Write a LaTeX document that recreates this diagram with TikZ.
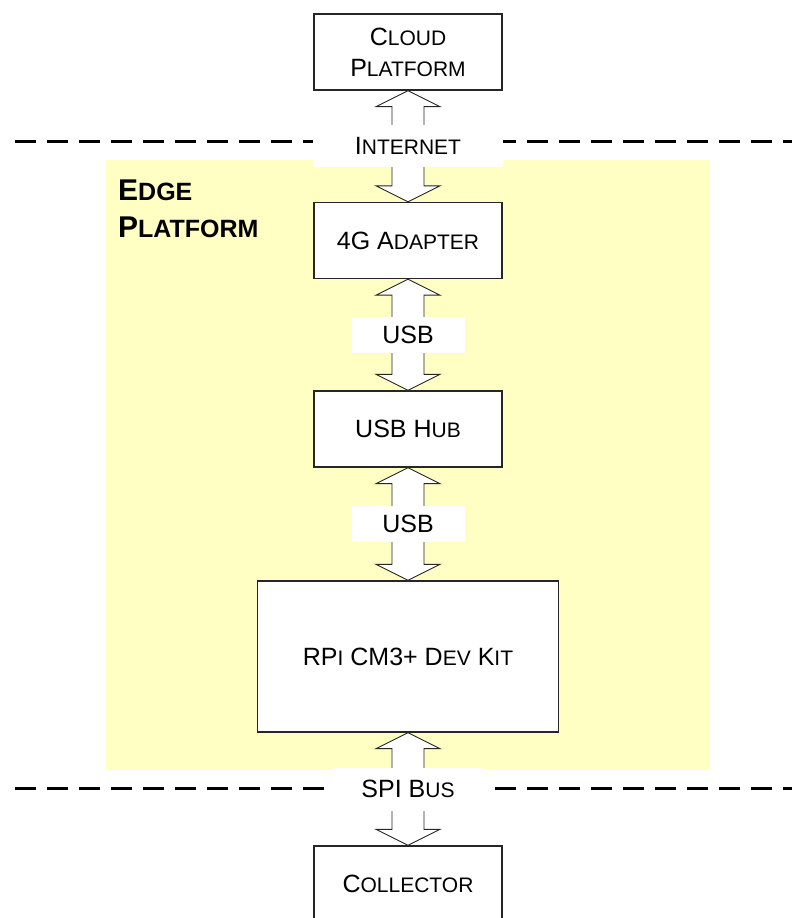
\documentclass[tikz,border=0pt]{standalone}
\usepackage{fontspec}
\setmainfont{Liberation Sans}
\usetikzlibrary{calc}
\definecolor{edgefill}{RGB}{255,255,196}
\newcommand{\sm}[1]{{\fontsize{21}{23}\selectfont #1}}
\newcommand{\smb}[1]{{\fontsize{25}{27}\selectfont #1}}
\tikzset{%
          base/.style = {rectangle, draw=black!85, line width=1.3pt, fill=white,
                         inner sep=0pt, text centered, font=\fontsize{25}{31}\selectfont},
  box0/.style = {base, minimum width=188pt, minimum height=76pt, align=center},
  box1/.style = {base, minimum width=301pt, minimum height=151pt, align=center},
  link/.style = {rectangle, fill=white, inner sep=0pt, font=\fontsize{25}{31}\selectfont},
  fat/.style  = {draw=black!85, line width=0.9pt, fill=white, line join=miter},
  border/.style = {line width=3pt, dash pattern=on 21pt off 11pt},
}
% double block arrow from the bottom of #1 to the top of #2
\newcommand{\fatarrow}[2]{%
  \draw[fat] (#1.south) -- ++(32,-16) -- ++(-16,0) -- ($(#2.north)+(16,16)$)
    -- ++(16,0) -- (#2.north) -- ++(-32,16) -- ++(16,0)
    -- ($(#1.south)+(-16,-16)$) -- ++(-16,0) -- cycle;}

\begin{document}
\begin{tikzpicture}[x=1pt, y=1pt, node distance=188.5pt]
  \useasboundingbox (0,0) rectangle (792,-918);
  \clip (0,0) rectangle (792,-918);

  % edge area and boundaries
  \fill[edgefill] (106,-160) rectangle (710,-770);
  \draw[border] (15,-141) -- (792,-141);
  \draw[border] (15,-788) -- (792,-788);
  \node (onEdge) [anchor=base west, inner sep=0pt, align=left,
                  font=\fontsize{30}{37}\selectfont\bfseries] at (118,-237)
                  {E\smb{DGE}\\P\smb{LATFORM}};

  \node (onCloud)     [box0] at (408,-52)                 {C\sm{LOUD}\\P\sm{LATFORM}};
  \node (onAdapter)   [box0, below of=onCloud]            {4G A\sm{DAPTER}};
  \node (onHub)       [box0, below of=onAdapter]          {USB H\sm{UB}};
  \node (onRPi)       [box1, below of=onHub, yshift=-39pt]  {RP\sm{I} CM3+ D\sm{EV} K\sm{IT}};
  \node (onCollector) [box0, below of=onRPi, yshift=-39pt]  {C\sm{OLLECTOR}};

  \fatarrow{onCloud}{onAdapter}
  \fatarrow{onAdapter}{onHub}
  \fatarrow{onHub}{onRPi}
  \fatarrow{onRPi}{onCollector}

  \node (onInternet) [link, minimum width=190pt, minimum height=42pt]
        at ($(onCloud.south)!0.5!(onAdapter.north)$) {I\sm{NTERNET}};
  \node (onUSB1) [link, minimum width=113pt, minimum height=36pt]
        at ($(onAdapter.south)!0.5!(onHub.north)$) {USB};
  \node (onUSB2) [link, minimum width=113pt, minimum height=36pt]
        at ($(onHub.south)!0.5!(onRPi.north)$) {USB};
  \node (onSPI) [link, minimum width=151pt, minimum height=43pt]
        at ($(onRPi.south)!0.5!(onCollector.north)$) {SPI B\sm{US}};
\end{tikzpicture}
\end{document}
